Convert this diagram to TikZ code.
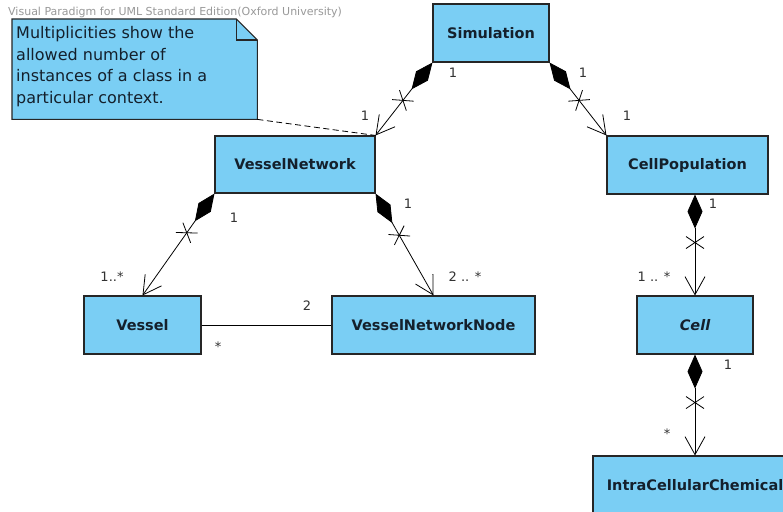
\documentclass[tikz,border=0pt]{standalone}
\usepackage{fontspec}
\setmainfont{DejaVu Sans}
\usetikzlibrary{arrows.meta,decorations.markings,calc}
\definecolor{umlblue}{RGB}{122,206,244}
\definecolor{umltext}{RGB}{20,32,44}
\definecolor{lblc}{RGB}{50,50,50}
\begin{document}
\begin{tikzpicture}[x=1pt,y=-1pt,
  cls/.style={draw=black!85, line width=1.1pt, fill=umlblue, text=umltext,
    font=\bfseries\fontsize{14.5}{17}\selectfont, inner sep=0pt},
  lbl/.style={text=lblc, font=\fontsize{13}{15}\selectfont, inner sep=0pt},
  comp/.style={line width=0.8pt,
    {Diamond[length=34pt,width=15pt]}-{Straight Barb[length=18pt,width=20pt,line width=0.8pt]},
    postaction={decorate},
    decoration={markings, mark=at position 48pt with {\draw[-,line width=0.8pt] (-6pt,-9pt)--(6pt,9pt) (-6pt,9pt)--(6pt,-9pt);}}}
]
\useasboundingbox (0,0) rectangle (783,511);
\clip (0,0) rectangle (783,511);
\fill[white] (0,0) rectangle (783,511);

\node[anchor=west, text=black!40, font=\fontsize{11}{12}\selectfont, inner sep=0pt] (hdr) at (8,12)
  {Visual Paradigm for UML Standard Edition(Oxford University)};

% note
\node[inner sep=0pt, minimum width=245pt, minimum height=100pt, anchor=north west] (note) at (12,19) {};
\filldraw[fill=umlblue, draw=black!85, line width=1.1pt]
  (note.south west) -- (note.north west) -- ([xshift=-21pt]note.north east)
  -- ([yshift=-21pt]note.north east) -- (note.south east) -- cycle;
\draw[draw=black!85, line width=1.1pt] ([xshift=-21pt]note.north east) -- ([xshift=-21pt,yshift=-21pt]note.north east) -- ([yshift=-21pt]note.north east);
\node[anchor=north west, align=left, inner sep=0pt, text=umltext,
  font=\fontsize{16}{21.8}\selectfont] (notetext) at (16,26)
  {Multiplicities show the\\allowed number of\\instances of a class in a\\particular context.};

% classes
\node[cls, minimum width=116pt, minimum height=58pt] (sim) at (491,33) {Simulation};
\node[cls, minimum width=160pt, minimum height=57pt] (vn) at (295,164.5) {VesselNetwork};
\node[cls, minimum width=161pt, minimum height=58pt] (cp) at (687.5,165) {CellPopulation};
\node[cls, minimum width=117pt, minimum height=58pt] (vessel) at (142.5,325) {Vessel};
\node[cls, minimum width=203pt, minimum height=58pt] (vnn) at (433.5,325) {VesselNetworkNode};
\node[cls, minimum width=116pt, minimum height=58pt] (cell) at (695,325) {\itshape Cell};
\node[cls, minimum width=204pt, minimum height=58pt] (icc) at (695,485) {IntraCellularChemical};

% connectors
\draw[comp] (sim.south west) -- (vn.north east);
\draw[comp] (sim.south east) -- (cp.north west);
\draw[comp] (vn.south west) -- (vessel.north);
\draw[comp] (vn.south east) -- (vnn.north);
\draw[comp] (cell.north |- cp.south) -- (cell.north);
\draw[comp] (cell.south) -- (icc.north);
\draw[line width=0.8pt] (vessel.east) -- (vnn.west);
\draw[line width=0.8pt, dash pattern=on 6pt off 3.5pt] (note.south east) -- (vn.north east);

% multiplicities
\node[lbl] (m1) at (453,73) {1};
\node[lbl] (m2) at (365,116) {1};
\node[lbl] (m3) at (583,73) {1};
\node[lbl] (m4) at (627,116) {1};
\node[lbl] (m5) at (234,218) {1};
\node[lbl] (m6) at (112,277) {1..*};
\node[lbl] (m7) at (408,204) {1};
\node[lbl] (m8) at (465,277) {2 .. *};
\node[lbl] (m9) at (307,306) {2};
\node[lbl] (m10) at (218,347) {*};
\node[lbl] (m11) at (713,204) {1};
\node[lbl] (m12) at (654,277) {1 .. *};
\node[lbl] (m13) at (728,365) {1};
\node[lbl] (m14) at (667,434) {*};
\end{tikzpicture}
\end{document}
